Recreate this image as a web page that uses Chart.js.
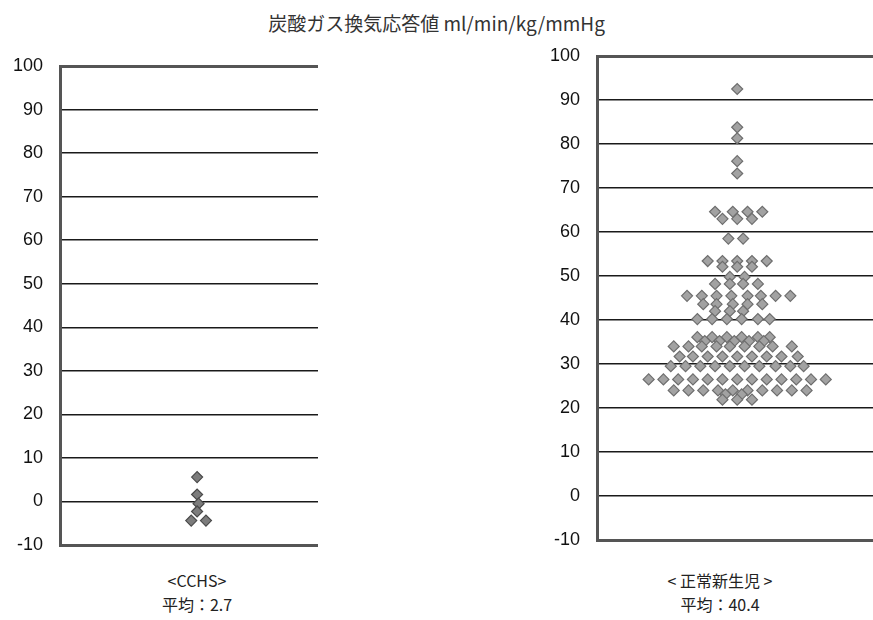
<!DOCTYPE html>
<html lang="ja">
<head>
<meta charset="utf-8">
<title>炭酸ガス換気応答値</title>
<script src="https://cdn.jsdelivr.net/npm/chart.js@4.4.1/dist/chart.umd.min.js"></script>
<style>
    html, body { margin: 0; padding: 0; background: #fff; }
    #page { position: relative; width: 873px; height: 620px; overflow: hidden;
        font-family: 'Noto Sans CJK JP', 'Liberation Sans', sans-serif; color: #333; }
    #title { position: absolute; left: 0; width: 873px; top: 9px; text-align: center; font-size: 19px; }
    .cap { position: absolute; width: 240px; text-align: center; font-size: 16px; line-height: 24px; color: #222; }
    #left-wrap { position: absolute; left: 0; top: 50px; width: 330px; height: 510px; }
    #right-wrap { position: absolute; left: 537px; top: 40px; width: 336px; height: 515px; }
</style>
</head>
<body>
<div id="page">
    <div id="title">炭酸ガス換気応答値 ml/min/kg/mmHg</div>
    <div id="left-wrap"><canvas id="chart-cchs"></canvas></div>
    <div id="right-wrap"><canvas id="chart-newborn"></canvas></div>
    <div class="cap" style="left:77px; top:568px;">&lt;CCHS&gt;<br>平均：2.7</div>
    <div class="cap" style="left:600px; top:568px;">&lt; 正常新生児 &gt;<br>平均：40.4</div>
</div>
<script>
// y axis ticks shared by both panels
const yMin = -10;
const yMax = 100;
const yStep = 10;

// CCHS group: values and horizontal swarm offsets
const cchsValues = [5.6, 1.6, -0.5, -2.3, -4.4, -4.4];
const cchsOffsets = [0, 0, 0.1, 0, -0.4, 0.6];

// normal newborns: one value per row, offsets of each diamond in that row
const newbornRowValues = [
    92.5, 83.8, 81.3, 76.1, 73.3, 64.6, 63.0, 58.5, 53.4, 52.1, 49.8, 48.2, 45.5,
    43.6, 42.0, 40.2, 36.1, 35.2, 34.0, 31.7, 29.5, 26.5, 24.0, 23.1, 21.9,
];
const newbornRowOffsets = [
    [0],
    [0],
    [0],
    [0],
    [0],
    [-1.5, -0.3, 0.7, 1.7],
    [-1, 0, 1],
    [-0.6, 0.4],
    [-2, -1, 0, 1, 2],
    [-1, 0, 1],
    [-0.5, 0.5],
    [-1.5, -0.5, 0.4, 1.4],
    [-3.4, -2.4, -1.4, -0.4, 0.7, 1.6, 2.6, 3.6],
    [-2.3, -1.4, -0.3, 0.7, 1.7],
    [-1.5, -0.5, 0.4],
    [-2.7, -1.7, -0.7, 0.3, 1.4, 2.2],
    [-2.7, -1.7, -0.7, 0.3, 1.4, 2.2],
    [-2.2, -1.2, -0.2, 0.8, 1.8],
    [-4.3, -3.3, -2.4, -1.4, -0.5, 0.5, 1.5, 2.4, 3.7],
    [-3.9, -3, -2, -1, 0, 1, 2, 3, 4.1],
    [-4.5, -3.5, -2.5, -1.5, -0.5, 0.5, 1.5, 2.6, 3.6, 4.5],
    [-6, -5, -4, -3, -2, -1, 0, 1, 2, 3, 4, 5, 6],
    [-4.3, -3.3, -2.3, -1.3, -0.3, 0.7, 1.7, 2.7, 3.7, 4.7],
    [-0.8, 0.3],
    [-1, 0, 1],
];

function buildPanel(id, points, xRange, fill, stroke, padding) {
    const canvas = document.getElementById(id);
    if (!canvas) {
        return;
    }
    const isEdge = (c) => c.tick && (c.tick.value === yMax || c.tick.value === yMin);
    new Chart(canvas.getContext('2d'), {
        type: 'scatter',
        data: {
            datasets: [
                {
                    data: points,
                    pointStyle: 'rectRot',
                    pointRadius: 5.5,
                    pointBackgroundColor: fill,
                    pointBorderColor: stroke,
                    pointBorderWidth: 1.2,
                },
            ],
        },
        options: {
            responsive: true,
            maintainAspectRatio: false,
            animation: false,
            layout: { padding, autoPadding: false },
            plugins: {
                legend: { display: false },
                tooltip: { enabled: false },
            },
            scales: {
                x: {
                    type: 'linear',
                    display: false,
                    min: xRange[0],
                    max: xRange[1],
                },
                y: {
                    min: yMin,
                    max: yMax,
                    afterFit: (scale) => {
                        scale.width = 60;
                    },
                    ticks: {
                        stepSize: yStep,
                        padding: 3,
                        color: '#111',
                        font: { size: 18, family: "'Liberation Sans', Arial, sans-serif" },
                    },
                    grid: {
                        drawTicks: true,
                        tickLength: 14,
                        tickColor: 'rgba(0,0,0,0)',
                        color: (c) => (isEdge(c) ? '#555' : '#1a1a1a'),
                        lineWidth: (c) => (isEdge(c) ? 3 : 1.4),
                    },
                    border: { display: true, width: 3, color: '#555' },
                },
            },
        },
    });
}

document.addEventListener('DOMContentLoaded', () => {
    const cchsPoints = cchsValues.map((v, i) => ({ x: cchsOffsets[i], y: v }));
    const newbornPoints = [];
    newbornRowValues.forEach((v, r) => {
        newbornRowOffsets[r].forEach((x) => newbornPoints.push({ x, y: v }));
    });

    buildPanel('chart-cchs', cchsPoints, [-9.3, 8.2], '#7c7c7c', '#4a4a4a',
        { top: 16, bottom: 15, left: 0, right: 12 });
    buildPanel('chart-newborn', newbornPoints, [-9.5, 9.2], '#a2a2a2', '#6e6e6e',
        { top: 16, bottom: 15, left: 0, right: 0 });
});
</script>
</body>
</html>
